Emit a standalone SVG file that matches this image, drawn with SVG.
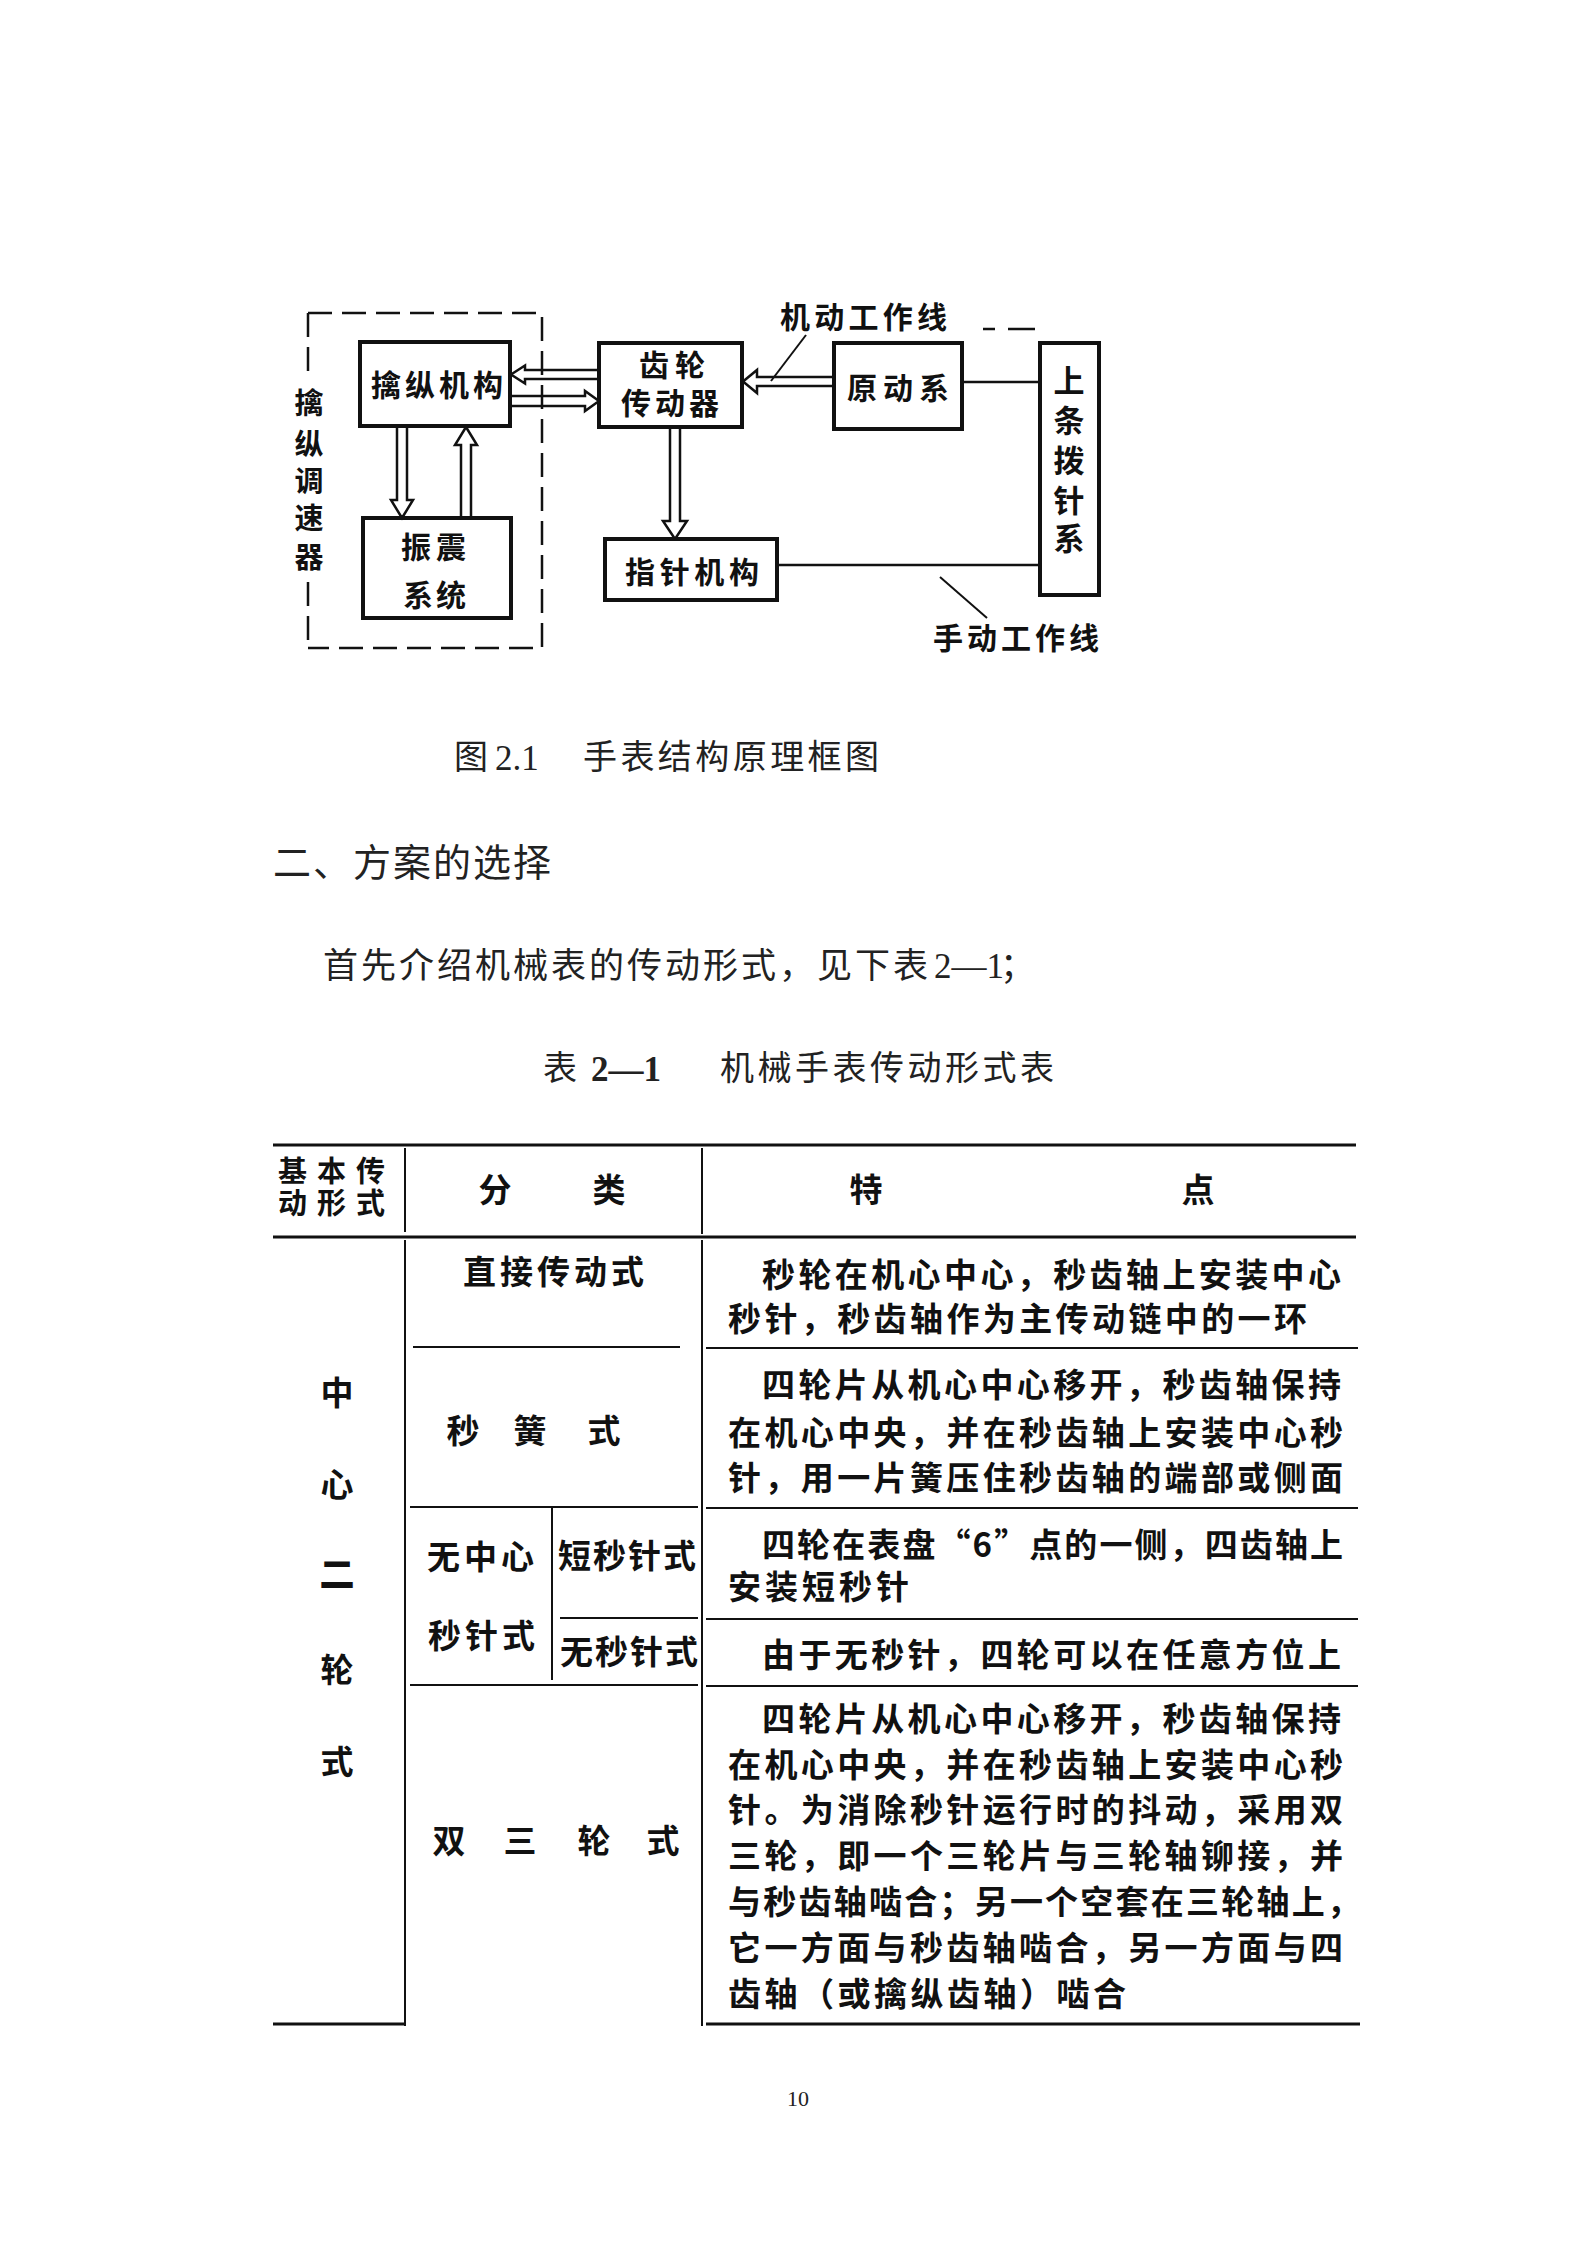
<svg xmlns="http://www.w3.org/2000/svg" width="1594" height="2252" viewBox="0 0 1594 2252">
<style>
.box{fill:none;stroke:#111;stroke-width:4}
.arr{fill:#fff;stroke:#111;stroke-width:2.5;stroke-linejoin:miter}
.ln{fill:none;stroke:#111;stroke-width:2.5}
.lead{fill:none;stroke:#111;stroke-width:2}
.dash{fill:none;stroke:#111;stroke-width:2.5;stroke-dasharray:24 10}
.dt{font-family:"Noto Sans CJK SC",sans-serif;font-weight:700;font-size:30px;fill:#111}
.dv{font-family:"Noto Sans CJK SC",sans-serif;font-weight:700;font-size:29px;fill:#111;text-anchor:middle}
.cap{font-family:"Noto Sans CJK SC",sans-serif;font-size:34px;fill:#222}
.lat{font-family:"Liberation Serif",serif;font-size:35px;fill:#222}
.tb{font-family:"Noto Sans CJK SC",sans-serif;font-weight:700;font-size:33px;fill:#111}
.tc{font-family:"Noto Sans CJK SC",sans-serif;font-weight:700;font-size:33px;fill:#111;text-anchor:middle}
.rule{stroke:#111;stroke-width:3}
.thin{stroke:#111;stroke-width:2}
</style>
<rect width="1594" height="2252" fill="#fff"/>

<!-- Diagram -->
<g id="connectors">
  <polygon class="arr" points="511,374.5 525,365.5 525,370 599,370 599,379 525,379 525,383.5"/>
  <polygon class="arr" points="510,396 585,396 585,391 599,401 585,411 585,406 510,406"/>
  <polygon class="arr" points="397,426 407,426 407,500 413,500 402,518 391,500 397,500"/>
  <polygon class="arr" points="461,518 471,518 471,445 477,445 466,427 455,445 461,445"/>
  <polygon class="arr" points="670,427 680,427 680,521 687,521 675,539 663,521 670,521"/>
  <polygon class="arr" points="743,381.5 757,370 757,377 834,377 834,386 757,386 757,393"/>
  <path class="ln" d="M962 382 H1040"/>
  <path class="ln" d="M777 565 H1040"/>
  <path class="lead" d="M806 335 L771 381"/>
  <path class="lead" d="M940 577 L987 618"/>
  <path class="ln" d="M983 329 H995 M1008 329 H1035"/>
</g>

<g id="escapement-group">
  <path class="dash" d="M308 313 H542 V648 H308 M308 313 V372 M308 582 V648"/>
  <text class="dv"><tspan x="309" y="414">擒</tspan><tspan x="309" y="455">纵</tspan><tspan x="309" y="492">调</tspan><tspan x="309" y="529">速</tspan><tspan x="309" y="568">器</tspan></text>
</g>
<g id="node-escapement">
  <rect class="box" x="360" y="342" width="150" height="84"/>
  <text class="dt" x="371" y="396" textLength="132">擒纵机构</text>
</g>
<g id="node-oscillator">
  <rect class="box" x="363" y="518" width="148" height="100"/>
  <text class="dt" x="401" y="558" textLength="65">振震</text>
  <text class="dt" x="403" y="606" textLength="63">系统</text>
</g>
<g id="node-gear">
  <rect class="box" x="599" y="343" width="143" height="84"/>
  <text class="dt" x="639" y="376" textLength="66">齿轮</text>
  <text class="dt" x="621" y="414" textLength="98">传动器</text>
</g>
<g id="node-hands">
  <rect class="box" x="605" y="539" width="172" height="61"/>
  <text class="dt" x="625" y="583" textLength="134">指针机构</text>
</g>
<g id="node-mainspring">
  <rect class="box" x="834" y="343" width="128" height="86"/>
  <text class="dt" x="847" y="399" textLength="102">原动系</text>
</g>
<g id="node-winding">
  <rect class="box" x="1040" y="343" width="59" height="252"/>
  <text class="dv" style="font-size:31px"><tspan x="1069" y="392">上</tspan><tspan x="1069" y="432">条</tspan><tspan x="1069" y="472">拨</tspan><tspan x="1069" y="512">针</tspan><tspan x="1069" y="550">系</tspan></text>
</g>
<g id="label-auto">
  <text class="dt" x="780" y="328" textLength="167">机动工作线</text>
</g>
<g id="label-manual">
  <text class="dt" x="933" y="649" textLength="166">手动工作线</text>
</g>

<!-- Captions and body text -->
<g id="captions">
  <text class="cap" x="454" y="769">图</text>
  <text class="lat" x="495" y="770">2.1</text>
  <text class="cap" x="583" y="769" textLength="296">手表结构原理框图</text>
  <text class="cap" x="273" y="876" style="font-size:38px" textLength="278">二、方案的选择</text>
  <text class="cap" x="323" y="978" style="font-size:35px" textLength="605">首先介绍机械表的传动形式，见下表</text>
  <text class="lat" x="934" y="978">2—1</text>
  <text class="cap" x="1000" y="978" style="font-size:35px">；</text>
  <text class="cap" x="543" y="1080">表</text>
  <text class="lat" x="591" y="1081" style="font-weight:700">2—1</text>
  <text class="cap" x="720" y="1080" textLength="334">机械手表传动形式表</text>
  <text class="lat" x="798" y="2106" style="font-size:22px" text-anchor="middle">10</text>
</g>

<!-- Table -->
<g id="table-lines">
  <line class="rule" x1="273" y1="1145" x2="1356" y2="1145"/>
  <line class="rule" x1="273" y1="1237" x2="1356" y2="1237"/>
  <line class="thin" x1="405" y1="1148" x2="405" y2="1232"/>
  <line class="thin" x1="405" y1="1240" x2="405" y2="2026"/>
  <line class="thin" x1="702" y1="1148" x2="702" y2="1234"/>
  <line class="thin" x1="702" y1="1240" x2="702" y2="2026"/>
  <line class="thin" x1="413" y1="1347" x2="680" y2="1347"/>
  <line class="thin" x1="410" y1="1507" x2="698" y2="1507"/>
  <line class="thin" x1="410" y1="1685" x2="698" y2="1685"/>
  <line class="thin" x1="560" y1="1618" x2="698" y2="1618"/>
  <line class="thin" x1="552" y1="1507" x2="552" y2="1680"/>
  <line class="thin" x1="706" y1="1348" x2="1358" y2="1348"/>
  <line class="thin" x1="706" y1="1508" x2="1358" y2="1508"/>
  <line class="thin" x1="706" y1="1619" x2="1358" y2="1619"/>
  <line class="thin" x1="706" y1="1686" x2="1358" y2="1686"/>
  <line class="rule" x1="273" y1="2024" x2="405" y2="2024"/>
  <line class="rule" x1="706" y1="2024" x2="1360" y2="2024"/>
</g>
<g id="table-header">
  <text class="tb" x="278" y="1182" style="font-size:29px" textLength="107">基本传</text>
  <text class="tb" x="278" y="1214" style="font-size:29px" textLength="107">动形式</text>
  <text class="tc" x="495" y="1202">分</text>
  <text class="tc" x="609" y="1202">类</text>
  <text class="tc" x="866" y="1202">特</text>
  <text class="tc" x="1198" y="1202">点</text>
</g>
<g id="table-col1">
  <text class="tc" x="337" y="1405">中</text>
  <text class="tc" x="337" y="1497">心</text>
  <text class="tc" style="font-size:35px;font-weight:900" x="337" y="1587">二</text>
  <text class="tc" x="337" y="1682">轮</text>
  <text class="tc" x="337" y="1774">式</text>
</g>
<g id="table-col2">
  <text class="tb" x="463" y="1284" textLength="181">直接传动式</text>
  <text class="tc" x="463" y="1443">秒</text>
  <text class="tc" x="530" y="1443">簧</text>
  <text class="tc" x="604" y="1443">式</text>
  <text class="tb" x="427" y="1569" textLength="107">无中心</text>
  <text class="tb" x="428" y="1648" textLength="107">秒针式</text>
  <text class="tb" x="558" y="1568" textLength="138">短秒针式</text>
  <text class="tb" x="560" y="1664" textLength="138">无秒针式</text>
  <text class="tc" x="449" y="1853">双</text>
  <text class="tc" x="520" y="1853">三</text>
  <text class="tc" x="594" y="1853">轮</text>
  <text class="tc" x="663" y="1853">式</text>
</g>
<g id="table-col3">
  <text class="tb" x="762" y="1287" textLength="579">秒轮在机心中心，秒齿轴上安装中心</text>
  <text class="tb" x="728" y="1331" textLength="579">秒针，秒齿轴作为主传动链中的一环</text>
  <text class="tb" x="762" y="1397" textLength="579">四轮片从机心中心移开，秒齿轴保持</text>
  <text class="tb" x="728" y="1445" textLength="615">在机心中央，并在秒齿轴上安装中心秒</text>
  <text class="tb" x="728" y="1490" textLength="615">针，用一片簧压住秒齿轴的端部或侧面</text>
  <text class="tb" x="762" y="1557" textLength="581">四轮在表盘“6”点的一侧，四齿轴上</text>
  <text class="tb" x="728" y="1599" textLength="181">安装短秒针</text>
  <text class="tb" x="762" y="1667" textLength="579">由于无秒针，四轮可以在任意方位上</text>
  <text class="tb" x="762" y="1731" textLength="579">四轮片从机心中心移开，秒齿轴保持</text>
  <text class="tb" x="728" y="1777" textLength="615">在机心中央，并在秒齿轴上安装中心秒</text>
  <text class="tb" x="728" y="1822" textLength="615">针。为消除秒针运行时的抖动，采用双</text>
  <text class="tb" x="728" y="1868" textLength="615">三轮，即一个三轮片与三轮轴铆接，并</text>
  <text class="tb" x="728" y="1914" textLength="632">与秒齿轴啮合；另一个空套在三轮轴上，</text>
  <text class="tb" x="728" y="1960" textLength="615">它一方面与秒齿轴啮合，另一方面与四</text>
  <text class="tb" x="728" y="2006" textLength="398">齿轴（或擒纵齿轴）啮合</text>
</g>
</svg>
